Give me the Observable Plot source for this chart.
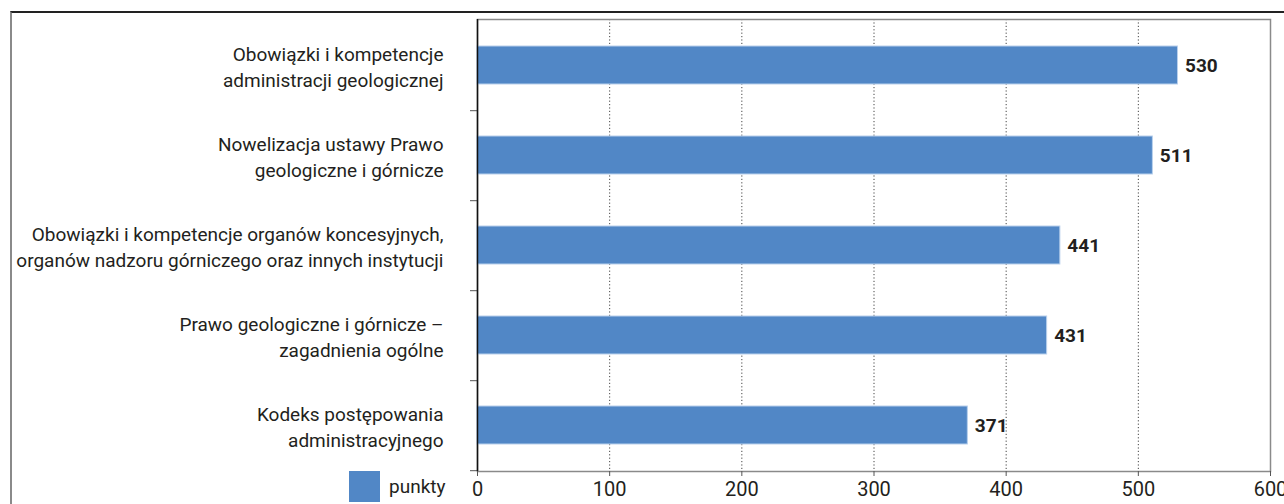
<!DOCTYPE html>
<html>
<head>
<meta charset="utf-8">
<script src="https://cdn.jsdelivr.net/npm/d3@7"></script>
<script src="https://cdn.jsdelivr.net/npm/@observablehq/plot@0.6"></script>
<style>
  html, body { margin: 0; padding: 0; background: #fff; }
  #wrap { position: relative; width: 1284px; height: 504px; overflow: hidden;
          font-family: "Liberation Sans Narrow", "Roboto", "DejaVu Sans Condensed", sans-serif; }
  #outer { position: absolute; left: 10px; top: 11px; right: 0; bottom: 0;
           border-top: 2px solid #222; border-left: 2px solid #8a8a8a; }
  #legend { position: absolute; left: 349px; top: 471px; display: flex; align-items: center;
            font-size: 19px; color: #231f20; }
  #legend .sw { width: 31px; height: 31px; background: #5187c6; margin-right: 9px; }
  svg { position: absolute; left: 0; top: 0; }
</style>
</head>
<body>
<div id="wrap">
  <div id="outer"></div>
  <div id="chart"></div>
  <div id="legend"><div class="sw"></div><span id="legtext"></span></div>
</div>
<script>
const categories = [
  "Obowiązki i kompetencje\nadministracji geologicznej",
  "Nowelizacja ustawy Prawo\ngeologiczne i górnicze",
  "Obowiązki i kompetencje organów koncesyjnych,\norganów nadzoru górniczego oraz innych instytucji",
  "Prawo geologiczne i górnicze –\nzagadnienia ogólne",
  "Kodeks postępowania\nadministracyjnego"
];
const values = [530, 511, 441, 431, 371];
const xTicks = [0, 100, 200, 300, 400, 500, 600];
const gridTicks = [100, 200, 300, 400, 500];
const seriesName = "punkty";

const data = categories.map((c, i) => ({category: c, value: values[i]}));
document.getElementById("legtext").textContent = seriesName;

const font = '"Liberation Sans Narrow", "Roboto", "DejaVu Sans Condensed", sans-serif';
const bandStep = (504 - 19 - 33) / categories.length;

const chart = Plot.plot({
  width: 1284,
  height: 504,
  marginLeft: 477,
  marginRight: 14,
  marginTop: 19,
  marginBottom: 33,
  style: {fontFamily: font, fontSize: "19px", color: "#231f20", background: "transparent"},
  x: {domain: [0, 600], ticks: xTicks},
  y: {domain: categories, paddingInner: 0.58, paddingOuter: 0.29, align: 0.5},
  marks: [
    Plot.ruleX(gridTicks, {stroke: "#444", strokeDasharray: "1.2,2.2", strokeWidth: 1}),
    Plot.frame({stroke: "#8a8a8a", strokeWidth: 1.5}),
    Plot.barX(data, {x: "value", y: "category", fill: "#5187c6", stroke: "#b9d0ec", strokeWidth: 1}),
    Plot.text(data, {x: "value", y: "category", text: d => String(d.value), textAnchor: "start", dx: 7,
                     fontWeight: "bold", fontSize: 19, fill: "#231f20"}),
    Plot.axisX({ticks: xTicks, tickSize: 5, tickPadding: 5, label: null, fontSize: 20,
                stroke: "#555", fill: "#231f20"}),
    Plot.axisY({tickSize: 0, tickPadding: 34, label: null, fontSize: 19, lineHeight: 1.37,
                fill: "#231f20"}),
    Plot.axisY({tickSize: 7, text: null, label: null, dy: bandStep / 2, stroke: "#555"}),
    Plot.ruleX([0], {stroke: "#111", strokeWidth: 1.5})
  ]
});
document.getElementById("chart").appendChild(chart);
</script>
</body>
</html>
